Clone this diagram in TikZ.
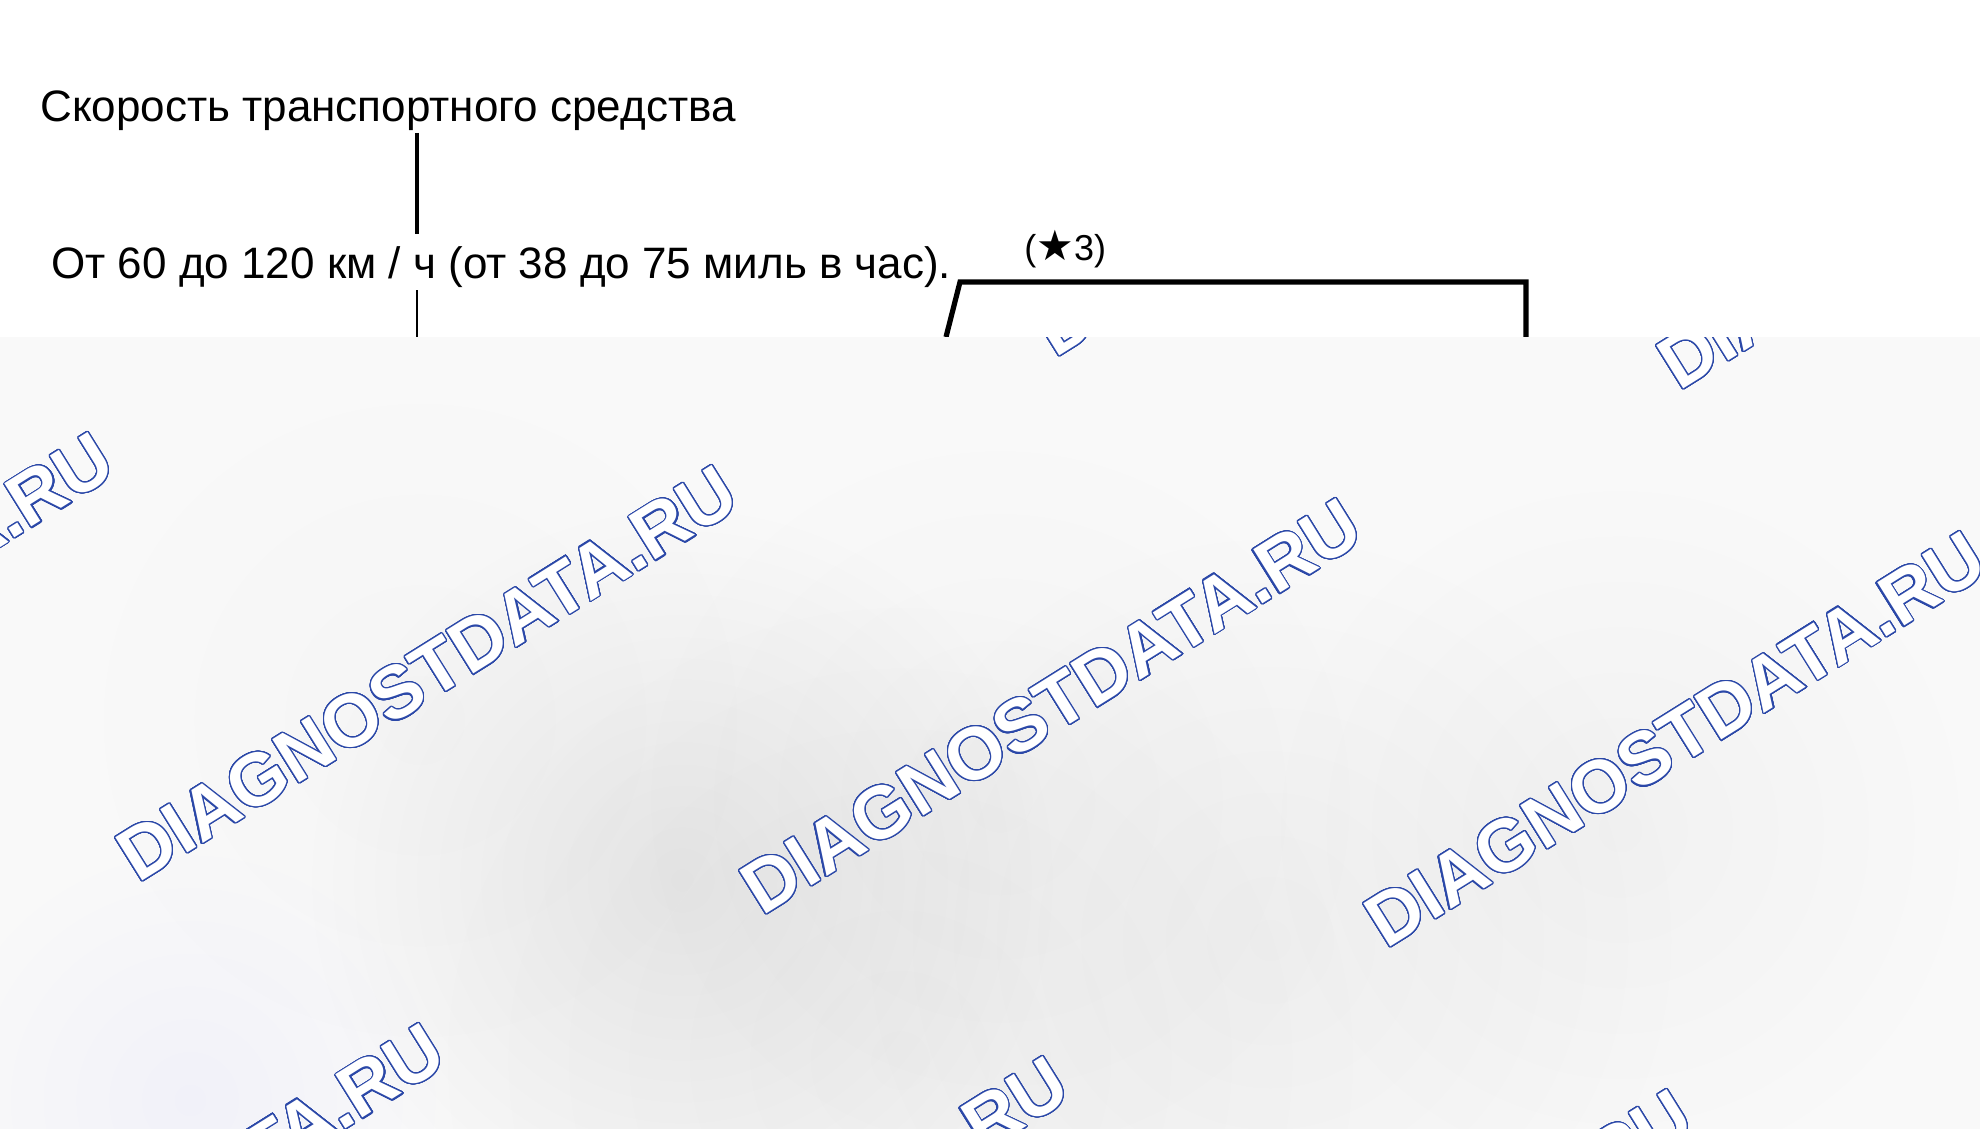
\documentclass[tikz,border=0pt]{standalone}
\usepackage{fontspec}
\setmainfont{Liberation Sans}
\newfontfamily\starfont{DejaVu Sans}
\usepackage{contour}
\usetikzlibrary{fadings}
\contournumber{32}
\contourlength{0.6pt}
\definecolor{wmblue}{HTML}{2B48A8}
\definecolor{bggray}{HTML}{F9F9F9}
\newcommand{\wmark}{\contour{wmblue}{\textcolor{white}{DIAGNOSTDATA.RU}}}
\tikzfading[name=blob,inner color=transparent!0,outer color=transparent!100]

\begin{document}
\begin{tikzpicture}[x=0.5pt,y=-0.5pt]
\useasboundingbox (0,0) rectangle (1980,1129);
\tikzset{lbl/.style={anchor=base west,inner sep=0pt,font=\fontsize{22}{26}\selectfont}}
\node[lbl] (speed) at (40,122) {Скорость транспортного средства};
\node[lbl] (range) at (51,278) {От 60 до 120 км / ч (от 38 до 75 миль в час).};
\node[lbl,font=\fontsize{18}{20}\selectfont] (star) at (1024,260) {({\starfont\fontsize{21}{22}\selectfont ★}3)};
% speed marker
\coordinate (top) at (417,133);
\coordinate (mid) at (417,234);
\coordinate (low) at (417,290);
\coordinate (cut) at (417,337);
\draw[line width=2pt] (top) -- (mid);
\draw[line width=0.8pt] (low) -- (cut);
% signal
\draw[line width=2.6pt,line join=miter] (946,337) coordinate (s0) -- (960,282) coordinate (s1)
  -- (1526,282) coordinate (s2) -- (1526,337) coordinate (s3);
% background
\fill[bggray] (0,337) rectangle (1980,1129);
\begin{scope}
\clip (0,337) rectangle (1980,1129);
\foreach \x/\y/\r/\o in {682/880/380/0.07,1270/940/420/0.04,1620/830/360/0.03,1000/800/380/0.025,900/1060/480/0.03,420/720/360/0.015}
\fill[black,opacity=\o,path fading=blob] (\x,\y) circle (\r);
\fill[blue,opacity=0.03,path fading=blob] (190,1100) circle (260);
\foreach \r in {-1,0,1}
\foreach \c in {-1,0,1,2,3}
\node[rotate=32,anchor=base west,inner sep=0pt,font=\bfseries\fontsize{37}{37}\selectfont]
  at ({138+624*\c-293*\r},{884+33*\c+558*\r}) {\wmark};
\end{scope}
\end{tikzpicture}
\end{document}
